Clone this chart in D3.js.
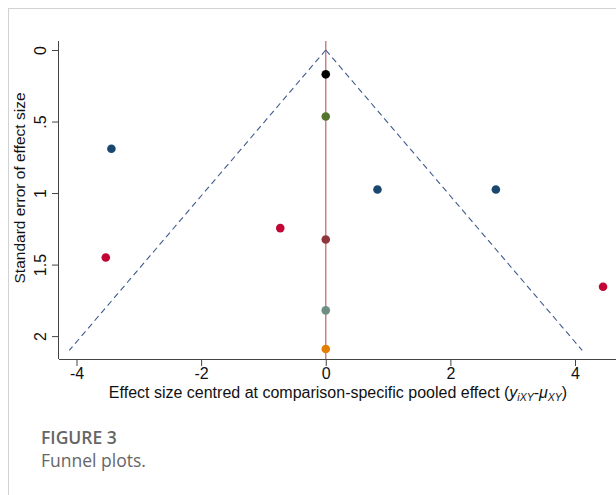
<!DOCTYPE html>
<html>
<head>
<meta charset="utf-8">
<script src="https://cdn.jsdelivr.net/npm/d3@7"></script>
<style>
  html, body { margin: 0; padding: 0; background: #fff; }
  svg { display: block; }
</style>
</head>
<body>
<svg id="chart" width="616" height="495"></svg>
<script>
// ---- data ----
const pointX   = [0, 0, -3.44, 0.83, 2.73, -0.73, 0, -3.53, 0, 0, 4.45];
const pointSE  = [0.17, 0.465, 0.69, 0.975, 0.975, 1.245, 1.325, 1.45, 1.82, 2.09, 1.655];
const pointCol = ["#000000", "#55752f", "#1a476f", "#1a476f", "#1a476f", "#c10534", "#90353b", "#c10534", "#6e8e84", "#e37e00", "#c10534"];
const xTicks = [-4, -2, 0, 2, 4];
const yTicks = [0, 0.5, 1, 1.5, 2];
const yTickLabels = ["0", ".5", "1", "1.5", "2"];
const funnelSE = [0, 2.1];
const zCrit = 1.96;
const xDomain = [-4.281, 4.658];
const yDomain = [-0.063, 2.16];

const svg = d3.select("#chart");

// card border
svg.append("line").attr("x1", 8).attr("x2", 616).attr("y1", 8.5).attr("y2", 8.5)
  .attr("stroke", "#d2d2d2").attr("stroke-width", 1);
svg.append("line").attr("x1", 8.5).attr("x2", 8.5).attr("y1", 8).attr("y2", 495)
  .attr("stroke", "#d2d2d2").attr("stroke-width", 1);

const pLeft = 59, pRight = 616, pTop = 41, pBottom = 359;
const x = d3.scaleLinear().domain(xDomain).range([pLeft, pRight]);
const y = d3.scaleLinear().domain(yDomain).range([pTop, pBottom]);

const chartFont = "'Liberation Sans', Arial, sans-serif";

// reference line at 0
svg.append("line")
  .attr("x1", x(0)).attr("x2", x(0)).attr("y1", pTop).attr("y2", pBottom)
  .attr("stroke", "#c98388").attr("stroke-width", 1.5);

// funnel lines
const funnelL = funnelSE.map(s => [-zCrit * s, s]);
const funnelR = funnelSE.map(s => [zCrit * s, s]);
const lineGen = d3.line().x(d => x(d[0])).y(d => y(d[1]));
[funnelL, funnelR].forEach(f => {
  svg.append("path").attr("d", lineGen(f))
    .attr("fill", "none").attr("stroke", "#3f5a8e").attr("stroke-width", 1.1)
    .attr("stroke-dasharray", "6,4");
});

// points
svg.append("g").selectAll("circle")
  .data(pointX.map((v, i) => ({x: v, se: pointSE[i], c: pointCol[i]})))
  .join("circle")
  .attr("cx", d => x(d.x)).attr("cy", d => y(d.se)).attr("r", 4.3)
  .attr("fill", d => d.c);

// x axis
const xAxis = d3.axisBottom(x).tickValues(xTicks).tickSize(7).tickPadding(2).tickFormat(d3.format("d"));
const gx = svg.append("g").attr("transform", `translate(0,${pBottom})`).call(xAxis);
gx.select(".domain").attr("d", `M${pLeft},0.5H${pRight}`).attr("stroke", "#444");
gx.selectAll(".tick line").attr("stroke", "#444");
gx.selectAll(".tick text").attr("font-family", chartFont).attr("font-size", 16).attr("fill", "#111")
  .text(d => d < 0 ? "-" + Math.abs(d) : d);

// y axis
const yAxis = d3.axisLeft(y).tickValues(yTicks).tickSize(7).tickFormat((d, i) => yTickLabels[i]);
const gy = svg.append("g").attr("transform", `translate(${pLeft},0)`).call(yAxis);
gy.select(".domain").attr("d", `M-0.5,${pTop}V${pBottom}`).attr("stroke", "#444");
gy.selectAll(".tick line").attr("stroke", "#444");
gy.selectAll(".tick text")
  .attr("font-family", chartFont).attr("font-size", 16).attr("fill", "#111")
  .attr("x", null)
  .attr("text-anchor", "middle")
  .attr("transform", "translate(-19,0) rotate(-90)")
  .attr("dy", "0.35em");

// y title
svg.append("text")
  .attr("transform", "translate(20,188) rotate(-90)")
  .attr("text-anchor", "middle").attr("dy", "0.35em")
  .attr("font-family", chartFont).attr("font-size", 15.5).attr("fill", "#111")
  .text("Standard error of effect size");

// x title
const xt = svg.append("text")
  .attr("x", 338).attr("y", 398).attr("text-anchor", "middle")
  .attr("font-family", chartFont).attr("font-size", 16).attr("fill", "#111");
xt.append("tspan").text("Effect size centred at comparison-specific pooled effect (");
xt.append("tspan").attr("font-style", "italic").text("y");
xt.append("tspan").attr("font-style", "italic").attr("font-size", 10.5).attr("dy", 3).text("iXY");
xt.append("tspan").attr("dy", -3).text("-");
xt.append("tspan").attr("font-style", "italic").text("μ");
xt.append("tspan").attr("font-style", "italic").attr("font-size", 10.5).attr("dy", 3).text("XY");
xt.append("tspan").attr("dy", -3).text(")");

// caption
svg.append("text").attr("x", 41).attr("y", 444)
  .attr("font-family", "'Open Sans', sans-serif").attr("font-weight", 600)
  .attr("font-size", 17.5).attr("fill", "#666").text("FIGURE 3");
svg.append("text").attr("x", 41).attr("y", 467)
  .attr("font-family", "'Open Sans', sans-serif")
  .attr("font-size", 17.5).attr("fill", "#666").text("Funnel plots.");
</script>
</body>
</html>
